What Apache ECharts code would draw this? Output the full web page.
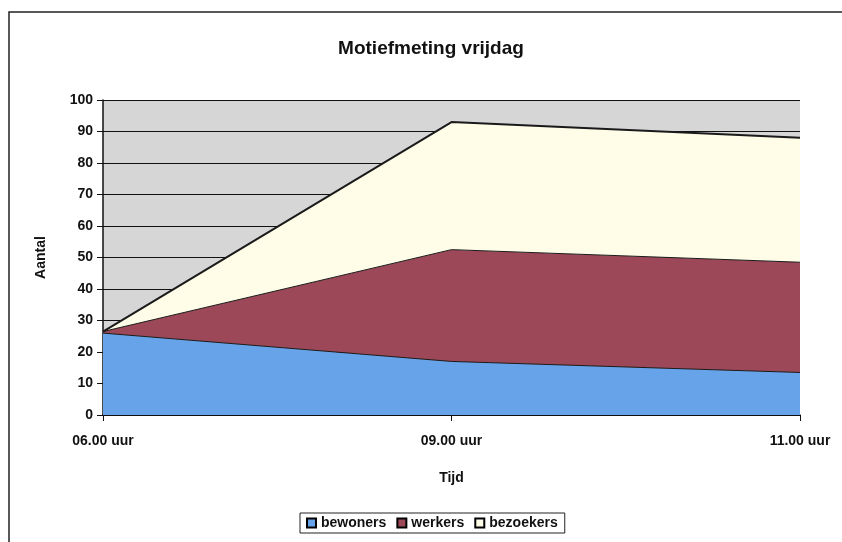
<!DOCTYPE html>
<html><head><meta charset="utf-8">
<script src="https://cdn.jsdelivr.net/npm/echarts@6/dist/echarts.min.js"></script>
<style>html,body{margin:0;padding:0;background:#fff}#c{width:842px;height:542px}</style>
</head><body><div id="c"></div>
<script>
const categories = ['06.00 uur', '09.00 uur', '11.00 uur'];
const bewoners = [26, 17, 13.5];
const werkers = [0.5, 35.5, 35];
const bezoekers = [0, 40.5, 39.5];
const yTicks = [0, 100, 10];

const font = 'Liberation Sans, Arial, sans-serif';
const chart = echarts.init(document.getElementById('c'));
function mk(name, data, color, lw) {
  return {
    name, type: 'line', stack: 'total', data, symbol: 'none',
    lineStyle: {color: '#1a1a1a', width: lw},
    areaStyle: {color: color, opacity: 1},
    itemStyle: {color: color, borderColor: '#000', borderWidth: 1},
    emphasis: {disabled: true}
  };
}
chart.setOption({
  animation: false,
  backgroundColor: '#fff',
  title: {text: 'Motiefmeting vrijdag', left: 426, top: 34, textAlign: 'center',
    textStyle: {fontFamily: font, fontSize: 19, fontWeight: 'bold', color: '#111'}},
  grid: {left: 103, right: 42, top: 100, bottom: 127, backgroundColor: '#d6d6d6', show: true, borderWidth: 0},
  legend: {
    bottom: 9, left: 300, itemWidth: 9, itemHeight: 9, itemGap: 10,
    icon: 'rect', borderColor: '#222', borderWidth: 1, padding: [3, 7, 3, 6],
    textStyle: {fontFamily: font, fontSize: 14, fontWeight: 'bold', color: '#111'},
    data: ['bewoners', 'werkers', 'bezoekers']
  },
  xAxis: {
    type: 'category', data: categories, boundaryGap: false,
    name: 'Tijd', nameLocation: 'middle', nameGap: 56,
    nameTextStyle: {fontFamily: font, fontSize: 14, fontWeight: 'bold', color: '#111'},
    axisLine: {lineStyle: {color: '#111', width: 1.5}},
    axisTick: {show: true, length: 6, lineStyle: {color: '#111'}},
    axisLabel: {fontFamily: font, fontSize: 14, fontWeight: 'bold', color: '#111', margin: 19},
    splitLine: {show: false}
  },
  yAxis: {
    type: 'value', min: yTicks[0], max: yTicks[1], interval: yTicks[2],
    name: 'Aantal', nameLocation: 'middle', nameGap: 55, nameRotate: 90,
    nameTextStyle: {fontFamily: font, fontSize: 14, fontWeight: 'bold', color: '#111'},
    axisLine: {show: true, lineStyle: {color: '#111', width: 1.5}},
    axisTick: {show: true, length: 6, lineStyle: {color: '#111'}},
    axisLabel: {fontFamily: font, fontSize: 14, fontWeight: 'bold', color: '#111', margin: 10},
    splitLine: {show: true, lineStyle: {color: '#111', width: 1.2}}
  },
  series: [
    mk('bewoners', bewoners, '#66a3e8', 1),
    mk('werkers', werkers, '#9c4858', 1),
    mk('bezoekers', bezoekers, '#fffde8', 2)
  ],
  graphic: [
    {type: 'polyline', shape: {points: [[9, 542], [9, 12], [842, 12]]},
      style: {stroke: '#222', lineWidth: 1.5, fill: null}}
  ]
});
</script></body></html>
